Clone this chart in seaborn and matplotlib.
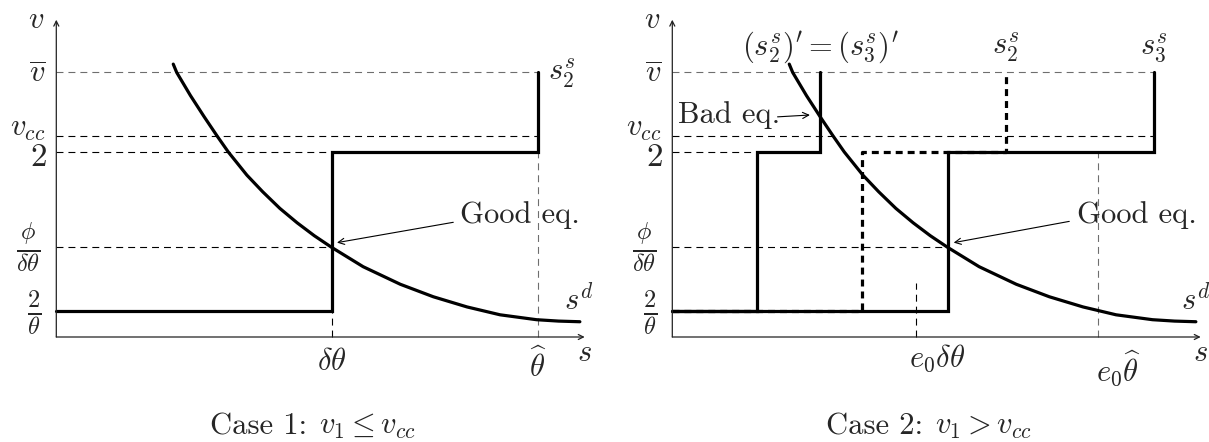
import matplotlib
matplotlib.use("Agg")
import matplotlib.pyplot as plt
import seaborn as sns

# ── values (model units) ─────────────────────────────────────────────────
# price levels on the v axis
V_BAR = 2.86
V_CC = 2.17
V_TWO = 2.00
V_PHI = 0.97
V_TWO_THETA = 0.28
level_values = [V_BAR, V_CC, V_TWO, V_PHI, V_TWO_THETA]
level_labels = [r"$\overline{v}$", r"$v_{cc}$", r"$2$",
                r"$\frac{\phi}{\delta\theta}$", r"$\frac{2}{\theta}$"]

# s-axis marks
DELTA_THETA = 4.0
THETA_HAT = 7.0
E0_DELTA_THETA = 3.54
E0_THETA_HAT = 6.19
E0_TICK_TOP = 0.58

# demand curve s^d
sd_x = [1.70, 1.75, 1.95, 2.15, 2.34, 2.50, 2.77, 3.00, 3.25, 3.50,
        3.75, 4.00, 4.46, 5.00, 5.48, 5.97, 6.45, 6.98, 7.30, 7.61]
sd_y = [2.95, 2.86, 2.61, 2.38, 2.17, 2.00, 1.75, 1.57, 1.39, 1.235,
        1.095, 0.97, 0.76, 0.57, 0.435, 0.325, 0.24, 0.187, 0.172, 0.165]

# supply steps
s2_case1_x = [0, DELTA_THETA, DELTA_THETA, THETA_HAT, THETA_HAT]
step_y = [V_TWO_THETA, V_TWO_THETA, V_TWO, V_TWO, V_BAR]
s23_prime_x = [0, 1.23, 1.23, 2.15, 2.15]
s2_case2_x = [0, 2.76, 2.76, 4.85, 4.85]
s3_case2_x = [0, DELTA_THETA, DELTA_THETA, THETA_HAT, THETA_HAT]

X_END = 7.68
Y_END = 3.43

# ── style ───────────────────────────────────────────────────────────────
sns.set_style("white")
plt.rcParams["mathtext.fontset"] = "cm"
plt.rcParams["lines.scale_dashes"] = False
plt.rcParams["axes.unicode_minus"] = False
FS = 22
DASH = (0, (5.0, 3.6))
THICK = 2.3
THIN = 0.8
GREY = "#6e6e6e"
RM = "cmr10"

# pixel layout: 68.8 px per s unit, 92.5 px per v unit
PXX, PXY = 68.8, 92.5
fig = plt.figure(figsize=(12.09, 4.42), dpi=100)
ax_l = fig.add_axes([0, 0, 604 / 1209, 1])
ax_r = fig.add_axes([604 / 1209, 0, 605 / 1209, 1])


def frame(ax, x0_px, x1_px, origin_px):
    ax.set_xlim((x0_px - origin_px) / PXX, (x1_px - origin_px) / PXX)
    ax.set_ylim(-(442 - 337) / PXY, 337 / PXY)
    ax.set_axis_off()
    arrow = dict(arrowstyle="->", lw=0.9, color="#222222",
                 shrinkA=0, shrinkB=0, mutation_scale=9)
    ax.annotate("", xy=(X_END, 0), xytext=(0, 0), arrowprops=arrow)
    ax.annotate("", xy=(0, Y_END), xytext=(0, 0), arrowprops=arrow)
    ax.text(-0.30, Y_END, r"$v$", fontsize=FS, ha="center", va="center")
    ax.text(X_END, -0.17, r"$s$", fontsize=FS, ha="center", va="center")
    offsets = [(-19, -2), (-29, 8), (-18, -5), (-28, 0), (-22, -1)]
    sizes = [FS, FS, 24, 25, 25]
    for val, lab, off, fs in zip(level_values, level_labels, offsets, sizes):
        ax.annotate(lab, xy=(0, val), xytext=off, textcoords="offset pixels",
                    fontsize=fs, ha="center", va="center")


def guide(ax, xs, ys, color="black"):
    ax.plot(xs, ys, color=color, lw=THIN, linestyle=DASH)


def step(ax, xs, ys, dashed=False):
    sns.lineplot(x=xs, y=ys, ax=ax, sort=False, estimator=None,
                 color="black", lw=THICK)
    line = ax.lines[-1]
    line.set_solid_joinstyle("miter")
    if dashed:
        line.set_linestyle(DASH)


def curve(ax):
    sns.lineplot(x=sd_x, y=sd_y, ax=ax, sort=False, estimator=None,
                 color="black", lw=THICK)


def caption(ax, word, math):
    ax.text(3.64, -0.97, word, fontsize=FS, family=RM, ha="right", va="center")
    ax.text(3.82, -0.97, math, fontsize=FS, ha="left", va="center")


arrow_thin = dict(arrowstyle="->", lw=0.8, color="black",
                  shrinkA=0, shrinkB=0, mutation_scale=11)

# ── Case 1 ──────────────────────────────────────────────────────────────
ax = ax_l
frame(ax, 0, 604, 56.3)
guide(ax, [0, THETA_HAT], [V_BAR, V_BAR], GREY)
guide(ax, [0, THETA_HAT], [V_CC, V_CC])
guide(ax, [0, DELTA_THETA], [V_TWO, V_TWO])
guide(ax, [0, DELTA_THETA], [V_PHI, V_PHI])
guide(ax, [DELTA_THETA, DELTA_THETA], [0, V_TWO_THETA])
guide(ax, [THETA_HAT, THETA_HAT], [0, V_TWO], GREY)
step(ax, s2_case1_x, step_y)
curve(ax)
ax.annotate("", xy=(4.08, 1.02), xytext=(5.77, 1.24), arrowprops=arrow_thin)
ax.text(5.87, 1.23, "Good eq.", fontsize=FS, family=RM, ha="left", va="baseline")
ax.text(7.35, 2.85, r"$s_2^s$", fontsize=FS, ha="center", va="center")
ax.text(7.60, 0.40, r"$s^d$", fontsize=FS, ha="center", va="center")
ax.text(DELTA_THETA, -0.27, r"$\delta\theta$", fontsize=FS, ha="center", va="center")
ax.text(THETA_HAT, -0.31, r"$\widehat{\theta}$", fontsize=FS, ha="center", va="center")
caption(ax, "Case 1:", r"$v_1 \leq v_{cc}$")

# ── Case 2 ──────────────────────────────────────────────────────────────
ax = ax_r
frame(ax, 604, 1209, 672.3)
guide(ax, [0, THETA_HAT], [V_BAR, V_BAR], GREY)
guide(ax, [0, THETA_HAT], [V_CC, V_CC])
guide(ax, [0, s23_prime_x[1]], [V_TWO, V_TWO])
guide(ax, [0, DELTA_THETA], [V_PHI, V_PHI])
guide(ax, [E0_DELTA_THETA, E0_DELTA_THETA], [0, E0_TICK_TOP])
guide(ax, [E0_THETA_HAT, E0_THETA_HAT], [0, V_TWO], GREY)
step(ax, s2_case2_x, step_y, dashed=True)
step(ax, s23_prime_x, step_y)
step(ax, s3_case2_x, step_y)
curve(ax)
ax.annotate("", xy=(2.00, 2.40), xytext=(1.53, 2.38), arrowprops=arrow_thin)
ax.text(0.08, 2.31, "Bad eq.", fontsize=FS, family=RM, ha="left", va="baseline")
ax.annotate("", xy=(4.09, 1.02), xytext=(5.77, 1.25), arrowprops=arrow_thin)
ax.text(5.88, 1.23, "Good eq.", fontsize=FS, family=RM, ha="left", va="baseline")
ax.text(2.15, 3.13, r"$(s_2^s)' = (s_3^s)'$", fontsize=FS, ha="center", va="center")
ax.text(4.84, 3.13, r"$s_2^s$", fontsize=FS, ha="center", va="center")
ax.text(6.99, 3.13, r"$s_3^s$", fontsize=FS, ha="center", va="center")
ax.text(7.61, 0.40, r"$s^d$", fontsize=FS, ha="center", va="center")
ax.annotate(r"$e_0\delta\theta$", xy=(E0_DELTA_THETA, -0.23), xytext=(21, 0),
            textcoords="offset pixels", fontsize=FS, ha="center", va="center")
ax.annotate(r"$e_0\widehat{\theta}$", xy=(E0_THETA_HAT, -0.335), xytext=(20, 0),
            textcoords="offset pixels", fontsize=FS, ha="center", va="center")
caption(ax, "Case 2:", r"$v_1 > v_{cc}$")

fig.savefig("out.png", dpi=100)
